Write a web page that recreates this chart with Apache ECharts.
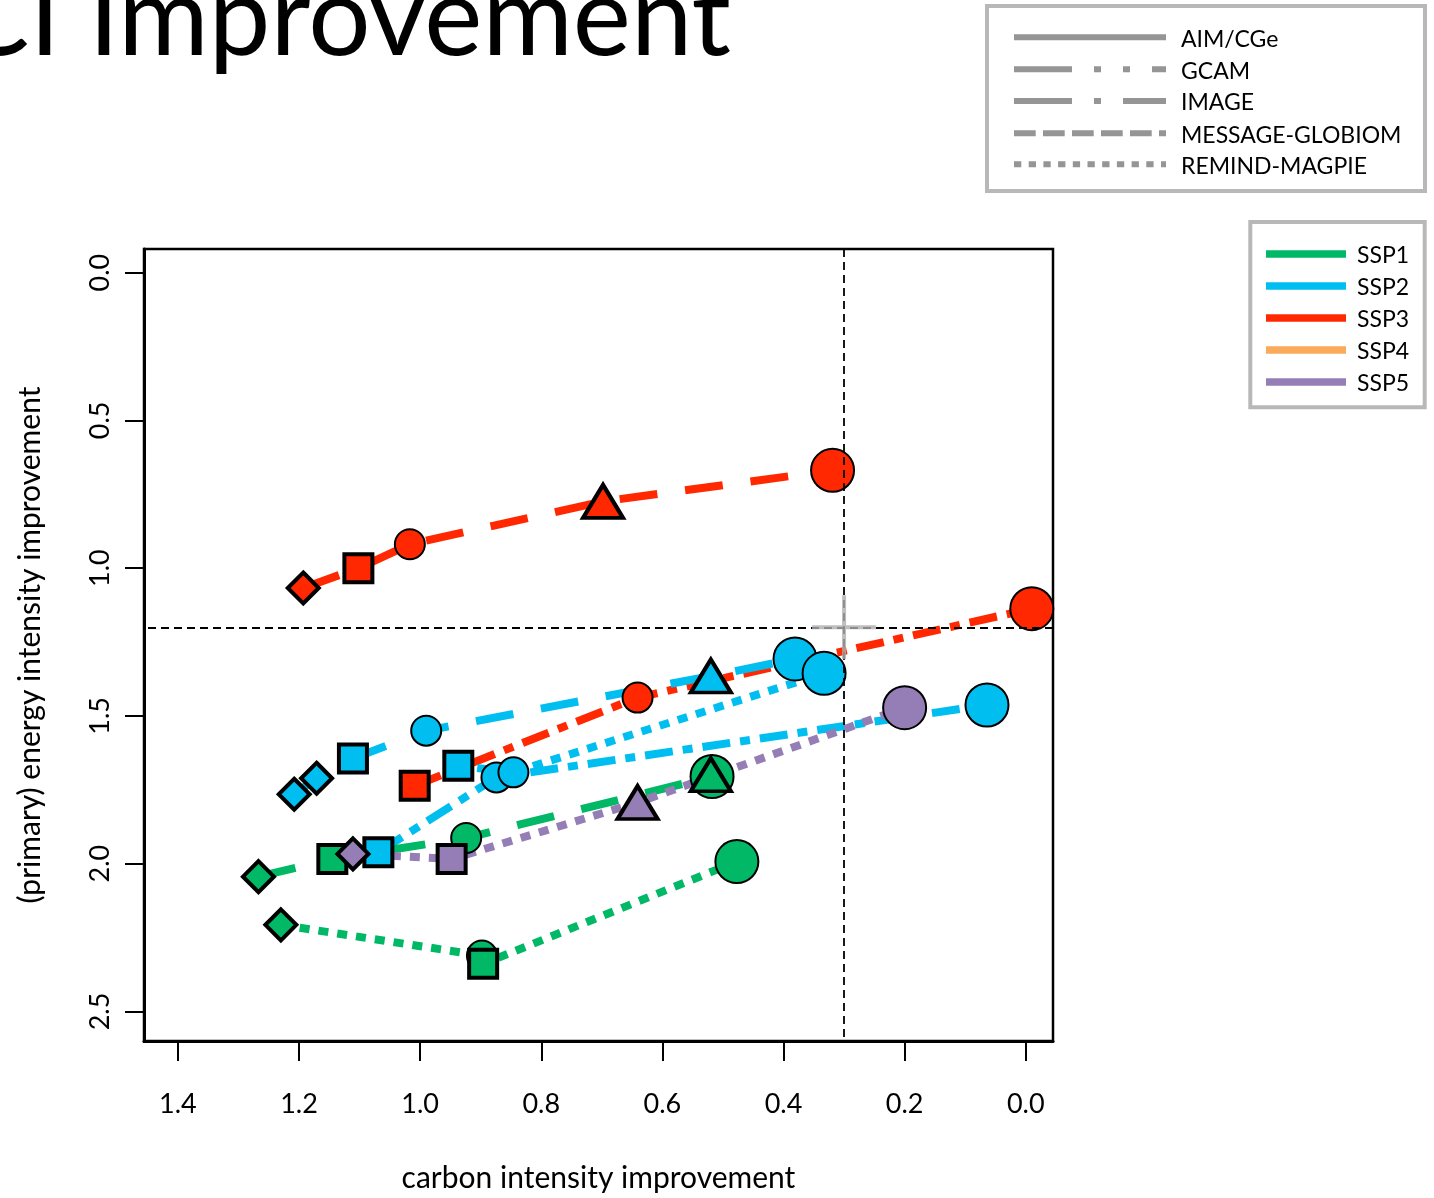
<!DOCTYPE html>
<html>
<head>
<meta charset="utf-8">
<script src="https://cdn.jsdelivr.net/npm/echarts@6/dist/echarts.min.js"></script>
<style>
  html, body { margin: 0; padding: 0; background: #fff; }
  #chart { width: 1434px; height: 1198px; }
</style>
</head>
<body>
<div id="chart"></div>
<script>
// ticks
const xTicks = [0, 0.2, 0.4, 0.6, 0.8, 1.0, 1.2, 1.4];
const yTicks = [0, 0.5, 1.0, 1.5, 2.0, 2.5];

// legend names
const modelNames = ['AIM/CGe', 'GCAM', 'IMAGE', 'MESSAGE-GLOBIOM', 'REMIND-MAGPIE'];
const sspNames = ['SSP1', 'SSP2', 'SSP3', 'SSP4', 'SSP5'];

// reference point (cross + dashed guides)
const refX = 0.3;
const refY = 1.2;

// SSP1
const ssp1MessageX = [1.267, 1.145, 0.924, 0.518, 0.520];
const ssp1MessageY = [2.044, 1.984, 1.913, 1.705, 1.699];
const ssp1MessageMarks = ['diamond', 'square', 'circle', 'bigCircle', 'triangle'];

const ssp1RemindX = [1.230, 0.898, 0.896, 0.477];
const ssp1RemindY = [2.207, 2.311, 2.339, 1.993];
const ssp1RemindMarks = ['diamond', 'circle', 'square', 'bigCircle'];

// SSP2
const ssp2ImageX = [1.069, 0.874, 0.064];
const ssp2ImageY = [1.961, 1.708, 1.463];
const ssp2ImageMarks = ['square', 'circle', 'bigCircle'];

const ssp2MessageX = [1.208, 1.171, 1.111, 0.990, 0.520, 0.381];
const ssp2MessageY = [1.765, 1.711, 1.644, 1.550, 1.365, 1.307];
const ssp2MessageMarks = ['diamond', 'diamond', 'square', 'circle', 'triangle', 'bigCircle'];

const ssp2RemindX = [0.937, 0.846, 0.333];
const ssp2RemindY = [1.669, 1.691, 1.356];
const ssp2RemindMarks = ['square', 'circle', 'bigCircle'];

// SSP3
const ssp3ImageX = [1.009, 0.641, -0.010];
const ssp3ImageY = [1.736, 1.438, 1.137];
const ssp3ImageMarks = ['square', 'circle', 'bigCircle'];

const ssp3MessageX = [1.193, 1.102, 1.017, 0.698, 0.319];
const ssp3MessageY = [1.067, 1.000, 0.919, 0.774, 0.669];
const ssp3MessageMarks = ['diamond', 'square', 'circle', 'triangle', 'bigCircle'];

// SSP5
const ssp5RemindX = [1.111, 0.948, 0.641, 0.200];
const ssp5RemindY = [1.967, 1.984, 1.793, 1.472];
const ssp5RemindMarks = ['diamond', 'square', 'triangle', 'bigCircle'];

// styles
const sspColors = ['#00B865', '#00BFF0', '#FF2800', '#FBA95A', '#957DB5'];
const legendGrey = '#959595';
const font = 'Lato';

const plotDash = {
  IMAGE: [28, 10, 10, 10],
  MESSAGE: [38, 28],
  REMIND: [10, 9]
};
const legendDash = [null, [58, 22, 7, 22, 7, 22], [58, 22, 7, 22], [21.7, 7.3], [7.3, 7.4]];

const markers = {
  diamond: { symbol: 'diamond', size: [31, 31], border: 4 },
  square: { symbol: 'rect', size: [28, 28], border: 4 },
  circle: { symbol: 'circle', size: 30, border: 2 },
  bigCircle: { symbol: 'circle', size: 43, border: 2 },
  triangle: { symbol: 'triangle', size: [40, 33], border: 4 }
};

// draw order matters: later lines sit on top of earlier markers
const lines = [
  { ssp: 2, model: 'IMAGE', xs: ssp3ImageX, ys: ssp3ImageY, marks: ssp3ImageMarks },
  { ssp: 1, model: 'IMAGE', xs: ssp2ImageX, ys: ssp2ImageY, marks: ssp2ImageMarks },
  { ssp: 0, model: 'MESSAGE', xs: ssp1MessageX, ys: ssp1MessageY, marks: ssp1MessageMarks },
  { ssp: 1, model: 'MESSAGE', xs: ssp2MessageX, ys: ssp2MessageY, marks: ssp2MessageMarks },
  { ssp: 2, model: 'MESSAGE', xs: ssp3MessageX, ys: ssp3MessageY, marks: ssp3MessageMarks },
  { ssp: 0, model: 'REMIND', xs: ssp1RemindX, ys: ssp1RemindY, marks: ssp1RemindMarks },
  { ssp: 1, model: 'REMIND', xs: ssp2RemindX, ys: ssp2RemindY, marks: ssp2RemindMarks },
  { ssp: 4, model: 'REMIND', xs: ssp5RemindX, ys: ssp5RemindY, marks: ssp5RemindMarks }
];

const X_MIN = -0.045, X_MAX = 1.456;
const Y_MIN = -0.08, Y_MAX = 2.60;

function buildSeries(line) {
  const color = sspColors[line.ssp];
  return {
    type: 'line',
    name: sspNames[line.ssp] + ' ' + line.model,
    data: line.xs.map((x, i) => {
      const m = markers[line.marks[i]];
      return {
        value: [x, line.ys[i]],
        symbol: m.symbol,
        symbolSize: m.size,
        itemStyle: { borderWidth: m.border }
      };
    }),
    showSymbol: true,
    showAllSymbol: true,
    clip: false,
    lineStyle: { color: color, width: 8, type: plotDash[line.model], cap: 'butt' },
    itemStyle: { color: color, borderColor: '#000', opacity: 1 },
    emphasis: { disabled: true },
    z: 2
  };
}

const series = lines.map(buildSeries);

// grey cross at the reference point
series.push({
  type: 'scatter',
  data: [[refX, refY]],
  symbol: 'path://M-2,-32L2,-32L2,-2L32,-2L32,2L2,2L2,32L-2,32L-2,2L-32,2L-32,-2L-2,-2Z',
  symbolSize: 64,
  itemStyle: { color: '#aeaeae' },
  emphasis: { disabled: true },
  silent: true,
  clip: false,
  z: 5
});

// dashed guides
series.push({
  type: 'line',
  data: [[refX, refY]],
  showSymbol: false,
  lineStyle: { opacity: 0 },
  clip: false,
  silent: true,
  z: 6,
  markLine: {
    silent: true,
    symbol: 'none',
    label: { show: false },
    lineStyle: { color: '#000', width: 1.8, type: [8, 5] },
    emphasis: { disabled: true },
    data: [
      { xAxis: refX },
      { yAxis: refY }
    ]
  }
});

// legends + title as graphics
const graphic = [];
graphic.push({
  type: 'text', x: 731, y: 20,
  style: { text: 'CI Improvement', fill: '#000', fontSize: 110, fontFamily: font, align: 'right', verticalAlign: 'middle' }
});

const modelRows = [37.3, 69.3, 101, 133.3, 164.3];
graphic.push({
  type: 'rect', shape: { x: 987, y: 6, width: 438, height: 185 },
  style: { fill: 'transparent', stroke: '#b8b8b8', lineWidth: 4 }
});
modelNames.forEach((name, i) => {
  graphic.push({
    type: 'line', shape: { x1: 1014, y1: modelRows[i], x2: 1166, y2: modelRows[i] },
    style: { stroke: legendGrey, lineWidth: 6, lineDash: legendDash[i], lineCap: 'butt' }
  });
  graphic.push({
    type: 'text', x: 1181, y: modelRows[i] + 2,
    style: { text: name, fill: '#000', fontSize: 23, fontFamily: font, align: 'left', verticalAlign: 'middle' }
  });
});

const sspRows = [254, 286, 318, 350, 382];
graphic.push({
  type: 'rect', shape: { x: 1250.3, y: 222, width: 174.4, height: 185.3 },
  style: { fill: 'transparent', stroke: '#b8b8b8', lineWidth: 4 }
});
sspNames.forEach((name, i) => {
  graphic.push({
    type: 'line', shape: { x1: 1266, y1: sspRows[i], x2: 1346, y2: sspRows[i] },
    style: { stroke: sspColors[i], lineWidth: 7.5, lineCap: 'butt' }
  });
  graphic.push({
    type: 'text', x: 1357, y: sspRows[i] + 2,
    style: { text: name, fill: '#000', fontSize: 23, fontFamily: font, align: 'left', verticalAlign: 'middle' }
  });
});

const option = {
  animation: false,
  backgroundColor: '#fff',
  textStyle: { fontFamily: font },
  grid: {
    left: 144, top: 249, width: 909, height: 794,
    show: true, borderColor: '#000', borderWidth: 2.5, backgroundColor: 'transparent'
  },
  xAxis: {
    type: 'value',
    inverse: true,
    min: X_MIN,
    max: X_MAX,
    name: 'carbon intensity improvement',
    nameLocation: 'middle',
    nameGap: 122,
    nameTextStyle: { fontSize: 30, color: '#000', fontFamily: font },
    splitLine: { show: false },
    axisLine: { show: true, onZero: false, lineStyle: { color: '#000', width: 3 } },
    axisTick: { show: true, customValues: xTicks, length: 20, lineStyle: { color: '#000', width: 2 } },
    axisLabel: {
      customValues: xTicks, margin: 50, fontSize: 27, color: '#000', fontFamily: font,
      formatter: v => v.toFixed(1)
    }
  },
  yAxis: {
    type: 'value',
    inverse: true,
    min: Y_MIN,
    max: Y_MAX,
    name: '(primary) energy intensity improvement',
    nameLocation: 'middle',
    nameGap: 99,
    nameTextStyle: { fontSize: 30, color: '#000', fontFamily: font },
    splitLine: { show: false },
    axisLine: { show: true, onZero: false, lineStyle: { color: '#000', width: 3 } },
    axisTick: { show: true, customValues: yTicks, length: 19, lineStyle: { color: '#000', width: 2 } },
    axisLabel: {
      customValues: yTicks, margin: 30, fontSize: 27, rotate: 90, color: '#000', fontFamily: font,
      formatter: v => v.toFixed(1)
    }
  },
  graphic: graphic,
  series: series
};

const chart = echarts.init(document.getElementById('chart'));
chart.setOption(option);
</script>
</body>
</html>
